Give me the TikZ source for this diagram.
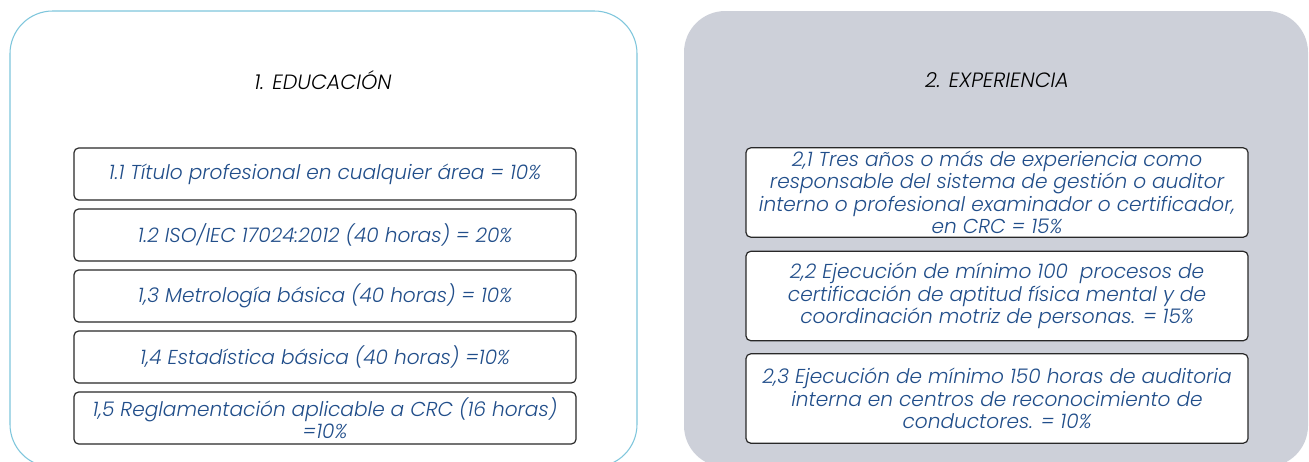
\documentclass[tikz,border=0pt]{standalone}
\usepackage{fontspec}
\setmainfont{Poppins}[UprightFont=* Light, ItalicFont=* Light Italic]
\definecolor{txtblue}{RGB}{33,78,138}
\definecolor{panelblue}{RGB}{126,198,220}
\definecolor{panelgray}{RGB}{205,208,217}
\definecolor{boxline}{RGB}{40,40,40}
\tikzset{
  itembox/.style={draw=boxline, line width=0.9pt, fill=white, rounded corners=3.5pt,
    minimum width=376.5pt, align=center, text=txtblue, inner sep=1pt,
    font=\fontsize{15.1}{16.9}\selectfont\itshape},
  paneltitle/.style={font=\fontsize{15.5}{17}\selectfont\itshape, text=black},
}
\begin{document}
\begin{tikzpicture}[x=0.75pt,y=-0.75pt]
\useasboundingbox (0,0) rectangle (1309,461);
\clip (0,0) rectangle (1309,461);
% panels
\draw[draw=panelblue, line width=0.8pt, fill=white, rounded corners=32pt] (10,11) rectangle (637,467);
\fill[panelgray, rounded corners=31pt] (684,11) rectangle (1308,467);
% titles
\node[paneltitle] (t1) at (323,80) {1. EDUCACIÓN};
\node[paneltitle] (t2) at (997,80) {2. EXPERIENCIA};
% left items
\node[itembox, minimum height=39pt] (e1) at (325,174) {1.1 Título profesional en cualquier área = 10\%};
\node[itembox, minimum height=39pt] (e2) at (325,235) {1.2 ISO/IEC 17024:2012 (40 horas) = 20\%};
\node[itembox, minimum height=39pt] (e3) at (325,296) {1,3 Metrología básica (40 horas) = 10\%};
\node[itembox, minimum height=39pt] (e4) at (325,357) {1,4 Estadística básica (40 horas) =10\%};
\node[itembox, minimum height=39pt] (e5) at (325,418) {1,5 Reglamentación aplicable a CRC (16 horas)\\=10\%};
% right items
\node[itembox, minimum height=67pt] (x1) at (997,192.5) {2,1 Tres años o más de experiencia como\\responsable del sistema de gestión o auditor\\interno o profesional examinador o certificador,\\en CRC = 15\%};
\node[itembox, minimum height=67pt] (x2) at (997,296) {2,2 Ejecución de mínimo 100~ procesos de\\certificación de aptitud física mental y de\\coordinación motriz de personas. = 15\%};
\node[itembox, minimum height=67pt] (x3) at (997,398.5) {2,3 Ejecución de mínimo 150 horas de auditoria\\interna en centros de reconocimiento de\\conductores. = 10\%};
\end{tikzpicture}
\end{document}
